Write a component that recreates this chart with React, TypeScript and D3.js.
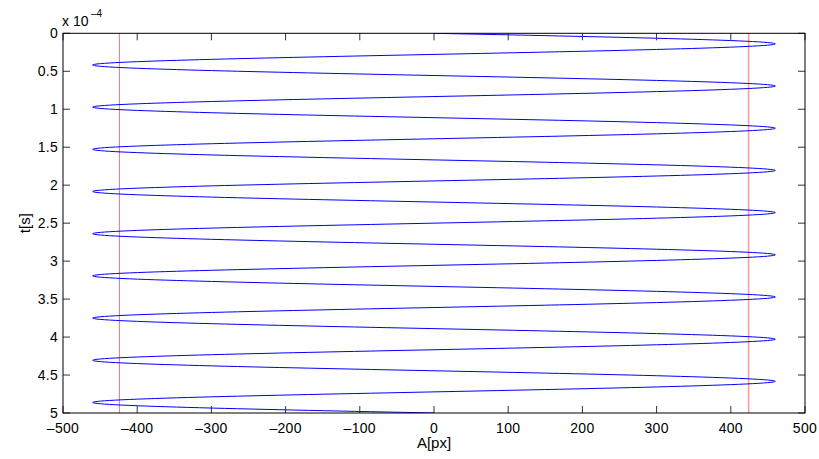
import React from "react";
import * as d3 from "d3";

// key points of the trace (t in units of 1e-4 s, A in px)
const tKeys = [
  0, 0.139, 0.278, 0.417, 0.556, 0.694, 0.833, 0.972, 1.111, 1.25, 1.389, 1.528,
  1.667, 1.806, 1.944, 2.083, 2.222, 2.361, 2.5, 2.639, 2.778, 2.917, 3.056, 3.194,
  3.333, 3.472, 3.611, 3.75, 3.889, 4.028, 4.167, 4.306, 4.444, 4.583, 4.722, 4.861, 5,
];
const aKeys = [
  0, 460, 0, -460, 0, 460, 0, -460, 0, 460, 0, -460, 0, 460, 0, -460, 0, 460, 0, -460,
  0, 460, 0, -460, 0, 460, 0, -460, 0, 460, 0, -460, 0, 460, 0, -460, 0,
];
const limitLines = [-424, 424];
const xTicks = [-500, -400, -300, -200, -100, 0, 100, 200, 300, 400, 500];
const yTicks = [0, 0.5, 1, 1.5, 2, 2.5, 3, 3.5, 4, 4.5, 5];

const W = 819;
const H = 459;
const L = 63;
const R = 805;
const T = 33.3;
const B = 413;

export default function App() {
  const x = d3.scaleLinear().domain([-500, 500]).range([L, R]);
  const y = d3.scaleLinear().domain([0, 5]).range([T, B]);
  const pts = tKeys.map((t, i) => [aKeys[i], t] as [number, number]);
  const line = d3
    .line<[number, number]>()
    .x((d) => x(d[0]))
    .y((d) => y(d[1]))
    .curve(d3.curveNatural);
  const tl = 7;
  const font = "'Liberation Sans', Arial, Helvetica, sans-serif";
  return (
    <svg
      width={W}
      height={H}
      style={{ position: "absolute", left: 0, top: 0, background: "#fff" }}
      fontFamily={font}
    >
      <rect x={0} y={0} width={W} height={H} fill="#fff" />
      <defs>
        <clipPath id="plotclip">
          <rect x={L} y={T} width={R - L} height={B - T} />
        </clipPath>
      </defs>
      <g clipPath="url(#plotclip)">
        <line x1={x(limitLines[0])} x2={x(limitLines[0])} y1={T} y2={B} stroke="#f07878" strokeWidth={1} />
        <line x1={x(limitLines[1])} x2={x(limitLines[1])} y1={T} y2={B} stroke="#ff9c9c" strokeWidth={1.6} />
        <path d={line(pts) || ""} fill="none" stroke="#0000ff" strokeWidth={1} />
      </g>
      {xTicks.map((v) => (
        <g key={"xt" + v}>
          <line x1={x(v)} x2={x(v)} y1={B} y2={B - tl} stroke="#333" strokeWidth={1} />
          <line x1={x(v)} x2={x(v)} y1={T} y2={T + tl} stroke="#333" strokeWidth={1} />
          <text x={x(v)} y={432.5} fontSize={14} textAnchor="middle" letterSpacing={0.3} fill="#000">
            {v < 0 ? "\u2013" + Math.abs(v) : String(v)}
          </text>
        </g>
      ))}
      {yTicks.map((v) => (
        <g key={"yt" + v}>
          <line x1={L} x2={L + tl} y1={y(v)} y2={y(v)} stroke="#333" strokeWidth={1} />
          <line x1={R} x2={R - tl} y1={y(v)} y2={y(v)} stroke="#333" strokeWidth={1} />
          <text x={58} y={y(v) + 5} fontSize={14} textAnchor="end" letterSpacing={0.3} fill="#000">
            {String(v)}
          </text>
        </g>
      ))}
      <rect x={L} y={T} width={R - L} height={B - T} fill="none" stroke="#000" strokeWidth={1} />
      <text x={62} y={26} fontSize={14} fill="#000">
        x 10
      </text>
      <text x={91} y={17} fontSize={10} fill="#000">
        {"\u2013"}4
      </text>
      <text x={(L + R) / 2} y={448} fontSize={15} textAnchor="middle" fill="#000">
        A[px]
      </text>
      <text
        transform={`translate(30,${(T + B) / 2}) rotate(-90)`}
        fontSize={15}
        textAnchor="middle"
        fill="#000"
      >
        t[s]
      </text>
    </svg>
  );
}
